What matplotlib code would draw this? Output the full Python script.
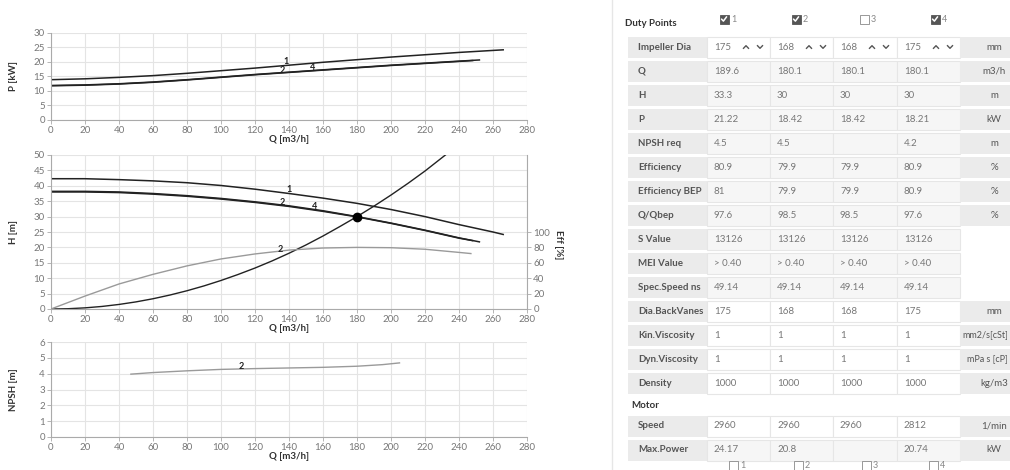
import matplotlib
matplotlib.use("Agg")
import matplotlib.pyplot as plt
from matplotlib.patches import Rectangle

plt.rcParams['font.family'] = ['Lato', 'DejaVu Sans']

# ---- pump curve data ----
q_p1 = [0, 20, 40, 60, 80, 100, 120, 140, 160, 180, 200, 220, 240, 266]
p1 = [13.9, 14.2, 14.7, 15.3, 16.1, 17.0, 17.9, 18.9, 19.9, 20.8, 21.7, 22.5, 23.3, 24.2]
q_p2 = [0, 20, 40, 60, 80, 100, 120, 140, 160, 180, 200, 220, 240, 252]
p2 = [11.9, 12.1, 12.5, 13.1, 13.9, 14.8, 15.7, 16.5, 17.3, 18.1, 18.9, 19.6, 20.3, 20.7]
q_p4 = [0, 20, 40, 60, 80, 100, 120, 140, 160, 180, 200, 220, 240, 248]
p4 = [11.8, 12.0, 12.4, 13.0, 13.8, 14.7, 15.6, 16.4, 17.2, 18.0, 18.8, 19.5, 20.2, 20.5]

q_h1 = [0, 20, 40, 60, 80, 100, 120, 140, 160, 180, 200, 220, 240, 260, 266]
h1 = [42.3, 42.3, 42.0, 41.6, 41.0, 40.1, 38.9, 37.5, 36.0, 34.3, 32.3, 30.0, 27.4, 25.0, 24.2]
q_h2 = [0, 20, 40, 60, 80, 100, 120, 140, 160, 180, 200, 220, 240, 252]
h2 = [38.2, 38.2, 38.0, 37.5, 36.8, 35.9, 34.8, 33.5, 31.9, 30.0, 27.9, 25.6, 23.1, 21.8]
q_h4 = [0, 20, 40, 60, 80, 100, 120, 140, 160, 180, 200, 220, 240, 248]
h4 = [38.0, 38.0, 37.8, 37.3, 36.6, 35.7, 34.6, 33.3, 31.7, 29.9, 27.8, 25.5, 23.0, 22.2]

q_sys = [0, 10, 20, 30, 40, 50, 60, 70, 80, 90, 100, 110, 120, 130, 140, 150,
         160, 170, 180, 190, 200, 210, 220, 232]
h_sys = [0, 0.09, 0.37, 0.83, 1.48, 2.31, 3.33, 4.54, 5.93, 7.5, 9.26, 11.2, 13.3,
         15.6, 18.1, 20.8, 23.7, 26.8, 30.0, 33.4, 37.0, 40.8, 44.8, 50.0]

q_eff2 = [0, 20, 40, 60, 80, 100, 120, 140, 160, 180, 200, 220, 240, 247]
eff2 = [0, 16.8, 32.5, 45.0, 56.0, 65.0, 71.5, 76.5, 79.2, 80.0, 79.6, 77.6, 73.5, 72.0]

q_npsh2 = [47, 60, 80, 100, 120, 140, 160, 180, 195, 205]
npsh2 = [3.97, 4.07, 4.18, 4.27, 4.32, 4.36, 4.40, 4.47, 4.57, 4.68]

duty_q, duty_h = 180, 30

# ---- table data ----
duty_checks = [True, True, False, True]
row_labels = ['Impeller Dia', 'Q', 'H', 'P', 'NPSH req', 'Efficiency', 'Efficiency BEP',
              'Q/Qbep', 'S Value', 'MEI Value', 'Spec.Speed ns', 'Dia.BackVanes',
              'Kin.Viscosity', 'Dyn.Viscosity', 'Density']
row_values = [
    ['175', '168', '168', '175'],
    ['189.6', '180.1', '180.1', '180.1'],
    ['33.3', '30', '30', '30'],
    ['21.22', '18.42', '18.42', '18.21'],
    ['4.5', '4.5', '', '4.2'],
    ['80.9', '79.9', '79.9', '80.9'],
    ['81', '79.9', '79.9', '80.9'],
    ['97.6', '98.5', '98.5', '97.6'],
    ['13126', '13126', '13126', '13126'],
    ['> 0.40', '> 0.40', '> 0.40', '> 0.40'],
    ['49.14', '49.14', '49.14', '49.14'],
    ['175', '168', '168', '175'],
    ['1', '1', '1', '1'],
    ['1', '1', '1', '1'],
    ['1000', '1000', '1000', '1000'],
]
row_units = ['mm', 'm3/h', 'm', 'kW', 'm', '%', '%', '%', '', '', '', 'mm',
             'mm2/s[cSt]', 'mPa s [cP]', 'kg/m3']
white_rows = ['Impeller Dia', 'Dia.BackVanes', 'Kin.Viscosity', 'Dyn.Viscosity', 'Density']
motor_labels = ['Speed', 'Max.Power']
motor_values = [['2960', '2960', '2960', '2812'], ['24.17', '20.8', '', '20.74']]
motor_units = ['1/min', 'kW']

W, H = 1010, 470
fig = plt.figure(figsize=(W / 100, H / 100), dpi=100)


def px_axes(l, t, r, b):
    return fig.add_axes([l / W, 1 - b / H, (r - l) / W, (b - t) / H])


def style(ax, ymax, ystep):
    ax.set_xlim(0, 280)
    ax.set_ylim(0, ymax)
    ax.set_xticks(range(0, 281, 20))
    ax.set_yticks(range(0, ymax + 1, ystep))
    ax.grid(color='#e4e4e4', lw=0.8)
    ax.set_axisbelow(True)
    for s in ['top', 'right']:
        ax.spines[s].set_visible(False)
    for s in ['left', 'bottom']:
        ax.spines[s].set_color('#aaaaaa')
        ax.spines[s].set_linewidth(0.8)
    ax.tick_params(colors='#aaaaaa', labelcolor='#777777', labelsize=7, length=3,
                   width=0.6, pad=1.5)
    ax.set_xlabel('Q [m3/h]', fontsize=7, fontweight='bold', color='#333333', labelpad=0)


ink = '#222222'
light = '#9a9a9a'
lab = dict(fontsize=6.5, fontweight='bold', color=ink, ha='center', va='center')

# ---- power chart ----
ax1 = px_axes(51, 33, 527, 120)
style(ax1, 30, 5)
ax1.plot(q_p1, p1, color=ink, lw=1.1)
ax1.plot(q_p2, p2, color=ink, lw=1.1)
ax1.plot(q_p4, p4, color=ink, lw=1.1)
ax1.text(138, 20.2, '1', **lab)
ax1.text(136, 17.2, '2', **lab)
ax1.text(154, 18.2, '4', **lab)
fig.text(14 / W, 1 - 76 / H, 'P [kW]', rotation=90, fontsize=7, fontweight='bold',
         color='#333333', ha='center', va='center')

# ---- head chart ----
ax2 = px_axes(51, 155, 527, 309)
style(ax2, 50, 5)
ax2.plot(q_h1, h1, color=ink, lw=1.1)
ax2.plot(q_h2, h2, color=ink, lw=1.1)
ax2.plot(q_h4, h4, color=ink, lw=1.1)
ax2.plot(q_sys, h_sys, color=ink, lw=1.0)
ax2.plot([duty_q], [duty_h], 'o', color='black', ms=6)
ax2.text(140, 38.8, '1', **lab)
ax2.text(136, 34.6, '2', **lab)
ax2.text(155, 33.2, '4', **lab)
ax2e = ax2.twinx()
ax2e.set_ylim(0, 200)
ax2e.set_yticks(range(0, 101, 20))
ax2e.plot(q_eff2, eff2, color=light, lw=1.0)
ax2e.text(135, 77.5, '2', **lab)
for s in ['top', 'left', 'bottom']:
    ax2e.spines[s].set_visible(False)
ax2e.spines['right'].set_color('#aaaaaa')
ax2e.spines['right'].set_linewidth(0.8)
ax2e.tick_params(colors='#aaaaaa', labelcolor='#777777', labelsize=7, length=3,
                 width=0.6, pad=1.5)
fig.text(14 / W, 1 - 232 / H, 'H [m]', rotation=90, fontsize=7, fontweight='bold',
         color='#333333', ha='center', va='center')
fig.text(558 / W, 1 - 245 / H, 'Eff [%]', rotation=270, fontsize=7, fontweight='bold',
         color='#333333', ha='center', va='center')

# ---- NPSH chart ----
ax3 = px_axes(51, 342, 527, 437)
style(ax3, 6, 1)
ax3.plot(q_npsh2, npsh2, color=light, lw=1.0)
ax3.text(112, 4.45, '2', **lab)
fig.text(14 / W, 1 - 390 / H, 'NPSH [m]', rotation=90, fontsize=7, fontweight='bold',
         color='#333333', ha='center', va='center')

# ---- data panel on the right ----
ov = fig.add_axes([0, 0, 1, 1], zorder=-1)
ov.set_xlim(0, W)
ov.set_ylim(H, 0)
ov.axis('off')

ov.plot([612, 612], [0, H], color='#e6e6e6', lw=1)

label_col = '#555555'
val_col = '#777777'
gray_cell = '#ebebeb'
light_cell = '#f6f6f6'
edge = '#e6e6e6'
tkw = dict(fontsize=7, va='center')

col_x = [707, 770, 833, 897, 960]
unit_right = 1030


def checkbox(x, y, checked, num):
    if checked:
        ov.add_patch(Rectangle((x - 4.5, y - 4.5), 9, 9, facecolor='#555555',
                               edgecolor='#555555', lw=0.6))
        ov.plot([x - 2.5, x - 0.6, x + 2.6], [y + 0.1, y + 2.1, y - 2.2],
                color='white', lw=1.1, solid_capstyle='round')
    else:
        ov.add_patch(Rectangle((x - 4.5, y - 4.5), 9, 9, facecolor='white',
                               edgecolor='#888888', lw=0.6))
    ov.text(x + 7, y + 0.5, num, color='#888888', fontsize=6.5, va='center')


def table_row(y, label, vals, unit, white, chevrons=False):
    top = y - 10.5
    h = 21
    ov.add_patch(Rectangle((628, top), col_x[0] - 628, h, facecolor=gray_cell,
                           edgecolor='none'))
    ov.text(638, y, label, color=label_col, fontweight='bold', **tkw)
    for i, v in enumerate(vals):
        x0 = col_x[i]
        fc = 'white' if white else light_cell
        ov.add_patch(Rectangle((x0, top), col_x[i + 1] - x0, h, facecolor=fc,
                               edgecolor=edge, lw=0.8))
        ov.text(x0 + 7, y, v, color=val_col, **tkw)
        if chevrons:
            for cx, d in [(x0 + 39, 1), (x0 + 53, -1)]:
                ov.plot([cx - 2.5, cx, cx + 2.5], [y + 1.3 * d, y - 1.3 * d, y + 1.3 * d],
                        color='#555555', lw=1.0)
    if unit:
        ov.add_patch(Rectangle((col_x[-1], top), unit_right - col_x[-1], h,
                               facecolor=gray_cell, edgecolor='none'))
        if len(unit) > 6:
            ov.text(1008, y, unit, color=label_col, ha='right', fontsize=6.5, va='center')
        else:
            ov.text(994, y, unit, color=label_col, ha='center', **tkw)


ov.text(625, 23, 'Duty Points', color='#333333', fontweight='bold', **tkw)
for cx, chk, n in zip([724, 796, 864, 935], duty_checks, ['1', '2', '3', '4']):
    checkbox(cx, 19, chk, n)

for i, (lbl, vals, unit) in enumerate(zip(row_labels, row_values, row_units)):
    table_row(47 + 24 * i, lbl, vals, unit, lbl in white_rows, chevrons=(i == 0))

ov.text(631, 406, 'Motor', color='#333333', fontweight='bold', **tkw)
for i, (lbl, vals, unit) in enumerate(zip(motor_labels, motor_values, motor_units)):
    table_row(426 + 24 * i, lbl, vals, unit, lbl == 'Speed')

for cx, n in zip([733, 798, 866, 933], ['1', '2', '3', '4']):
    checkbox(cx, 465, False, n)

fig.savefig('out.png', dpi=100)
